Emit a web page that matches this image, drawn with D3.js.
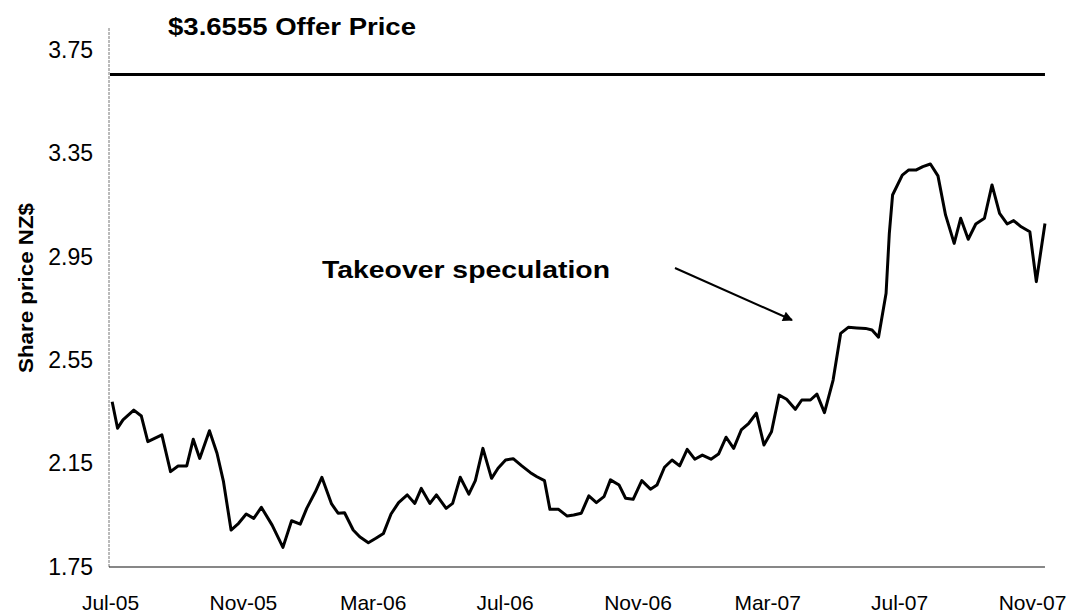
<!DOCTYPE html>
<html><head><meta charset="utf-8">
<script src="https://cdn.jsdelivr.net/npm/d3@7"></script>
<style>body{margin:0;background:#fff}svg{display:block}</style>
</head><body>
<svg id="c" width="1072" height="616"></svg>
<script>
const dates = ["2005-07-03","2005-07-08","2005-07-13","2005-07-23","2005-07-30","2005-08-05","2005-08-18","2005-08-26","2005-09-02","2005-09-10","2005-09-16","2005-09-22","2005-10-01","2005-10-08","2005-10-14","2005-10-21","2005-10-28","2005-11-04","2005-11-11","2005-11-18","2005-11-28","2005-12-08","2005-12-16","2005-12-24","2005-12-30","2006-01-07","2006-01-13","2006-01-22","2006-01-28","2006-02-03","2006-02-11","2006-02-17","2006-02-25","2006-03-04","2006-03-11","2006-03-18","2006-03-25","2006-04-02","2006-04-09","2006-04-15","2006-04-23","2006-04-29","2006-05-08","2006-05-14","2006-05-21","2006-05-29","2006-06-04","2006-06-11","2006-06-19","2006-06-25","2006-07-02","2006-07-09","2006-07-17","2006-07-25","2006-07-31","2006-08-07","2006-08-12","2006-08-20","2006-08-28","2006-09-03","2006-09-10","2006-09-17","2006-09-24","2006-10-01","2006-10-07","2006-10-15","2006-10-21","2006-10-28","2006-11-05","2006-11-13","2006-11-19","2006-11-26","2006-12-03","2006-12-10","2006-12-17","2006-12-24","2006-12-31","2007-01-08","2007-01-15","2007-01-22","2007-01-29","2007-02-05","2007-02-12","2007-02-19","2007-02-26","2007-03-05","2007-03-12","2007-03-19","2007-03-27","2007-04-02","2007-04-10","2007-04-16","2007-04-23","2007-05-01","2007-05-08","2007-05-15","2007-05-23","2007-05-31","2007-06-06","2007-06-12","2007-06-19","2007-06-22","2007-06-25","2007-07-04","2007-07-10","2007-07-17","2007-07-23","2007-07-30","2007-08-06","2007-08-13","2007-08-21","2007-08-27","2007-09-03","2007-09-10","2007-09-18","2007-09-25","2007-10-02","2007-10-09","2007-10-15","2007-10-22","2007-10-30","2007-11-05","2007-11-13"];
const prices = [2.389,2.287,2.319,2.357,2.334,2.235,2.261,2.119,2.141,2.141,2.244,2.170,2.277,2.190,2.080,1.893,1.919,1.955,1.938,1.981,1.912,1.826,1.929,1.916,1.977,2.041,2.097,1.994,1.958,1.960,1.893,1.867,1.844,1.861,1.880,1.955,1.999,2.029,1.996,2.054,1.996,2.029,1.977,1.996,2.097,2.032,2.084,2.209,2.093,2.132,2.164,2.169,2.141,2.115,2.099,2.084,1.973,1.973,1.947,1.951,1.958,2.025,1.999,2.022,2.087,2.067,2.016,2.012,2.084,2.051,2.067,2.136,2.164,2.141,2.205,2.167,2.183,2.167,2.187,2.252,2.209,2.280,2.306,2.345,2.222,2.273,2.415,2.399,2.360,2.396,2.396,2.419,2.347,2.473,2.654,2.677,2.675,2.673,2.667,2.639,2.809,3.041,3.189,3.266,3.286,3.286,3.299,3.309,3.263,3.112,3.002,3.099,3.018,3.077,3.099,3.228,3.118,3.077,3.090,3.066,3.047,2.854,3.079];
const yTicks = [1.75, 2.15, 2.55, 2.95, 3.35, 3.75];
const xTickDates = ["2005-07-01","2005-11-01","2006-03-01","2006-07-01","2006-11-01","2007-03-01","2007-07-01","2007-11-01"];
const offerPrice = 3.6555;
const titleText = "$3.6555 Offer Price";
const yTitle = "Share price NZ$";
const noteText = "Takeover speculation";

const parse = d3.utcParse("%Y-%m-%d");
const fmt = d3.utcFormat("%b-%y");
const svg = d3.select("#c");
const FONT = "'Liberation Sans', Arial, sans-serif";

const x = d3.scaleUtc().domain([parse("2005-07-01"), parse("2007-11-01")]).range([110, 1032]);
const y = d3.scaleLinear().domain([1.75, 3.75]).range([567, 50]);
const xEnd = x(parse(dates[dates.length-1]));

// y axis line (light dotted)
svg.append("line").attr("x1",109).attr("x2",109).attr("y1",28).attr("y2",567)
  .attr("stroke","#777").attr("stroke-width",1).attr("stroke-dasharray","3,1");
// x axis line
svg.append("line").attr("x1",109).attr("x2",xEnd).attr("y1",567).attr("y2",567)
  .attr("stroke","#111").attr("stroke-width",1.2);

const yAxis = d3.axisLeft(y).tickValues(yTicks).tickSize(0).tickPadding(0).tickFormat(d3.format(".2f"));
const gy = svg.append("g").attr("transform","translate(93,0)").call(yAxis);
gy.select(".domain").remove();
gy.selectAll("text").attr("font-family",FONT).attr("font-size",23).attr("fill","#000");

const xAxis = d3.axisBottom(x).tickValues(xTickDates.map(parse)).tickSize(0).tickPadding(0).tickFormat(fmt);
const gx = svg.append("g").attr("transform","translate(0,595)").call(xAxis);
gx.select(".domain").remove();
gx.selectAll("text").attr("font-family",FONT).attr("font-size",21).attr("fill","#000").attr("dy","0.72em");

// offer line
svg.append("line").attr("x1",110).attr("x2",xEnd).attr("y1",y(offerPrice)).attr("y2",y(offerPrice))
  .attr("stroke","#000").attr("stroke-width",3);

// price line
const line = d3.line().x((d,i)=>x(parse(dates[i]))).y(d=>y(d));
svg.append("path").datum(prices).attr("d",line).attr("fill","none")
  .attr("stroke","#000").attr("stroke-width",3).attr("stroke-linejoin","round");

// title
svg.append("text").attr("x",168).attr("y",35).text(titleText)
  .attr("font-family",FONT).attr("font-weight","bold").attr("font-size",23)
  .attr("textLength",248).attr("lengthAdjust","spacingAndGlyphs");

// y title
svg.append("text").attr("transform","translate(33,288) rotate(-90)").attr("text-anchor","middle").text(yTitle)
  .attr("font-family",FONT).attr("font-weight","bold").attr("font-size",21)
  .attr("textLength",170).attr("lengthAdjust","spacingAndGlyphs");

// annotation
svg.append("text").attr("x",322).attr("y",278).text(noteText)
  .attr("font-family",FONT).attr("font-weight","bold").attr("font-size",24)
  .attr("textLength",288).attr("lengthAdjust","spacingAndGlyphs");

svg.append("defs").append("marker").attr("id","ah").attr("viewBox","0 0 10 10").attr("refX",9).attr("refY",5)
  .attr("markerWidth",6).attr("markerHeight",5).attr("orient","auto").attr("markerUnits","strokeWidth")
  .append("path").attr("d","M0,0 L10,5 L0,10 z").attr("fill","#000");
svg.append("line").attr("x1",675).attr("y1",268).attr("x2",792).attr("y2",320)
  .attr("stroke","#000").attr("stroke-width",2).attr("marker-end","url(#ah)");
</script>
</body></html>
